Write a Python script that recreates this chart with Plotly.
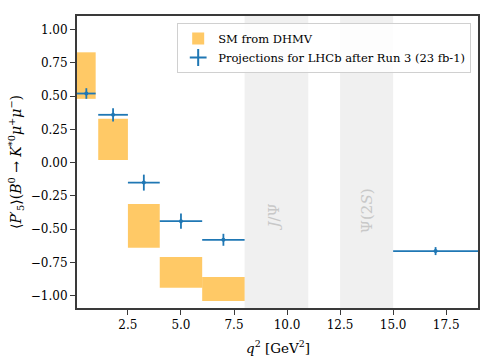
import plotly.graph_objects as go

# SM prediction boxes (DHMV)
sm_lo_edges = [0.1, 1.1, 2.5, 4.0, 6.0]
sm_hi_edges = [0.98, 2.5, 4.0, 6.0, 8.0]
sm_low = [0.48, 0.02, -0.64, -0.94, -1.04]
sm_high = [0.83, 0.33, -0.31, -0.71, -0.86]

# LHCb projections
proj_lo_edges = [0.1, 1.1, 2.5, 4.0, 6.0, 15.0]
proj_hi_edges = [0.98, 2.5, 4.0, 6.0, 8.0, 19.0]
proj_x = [0.54, 1.8, 3.25, 5.0, 7.0, 17.0]
proj_y = [0.52, 0.36, -0.15, -0.44, -0.58, -0.665]
proj_err = [0.04, 0.05, 0.06, 0.057, 0.045, 0.03]

# Resonance veto regions
veto_lo = [8.0, 12.5]
veto_hi = [11.0, 15.0]
veto_labels = ["<i>J</i>/Ψ", "Ψ(2<i>S</i>)"]
veto_label_x = [9.4, 13.75]
veto_label_y = [-0.41, -0.36]

FONT = "DejaVu Serif, serif"
BLUE = "#1f77b4"
FRAME = "#3a3a3a"

fig = go.Figure()

for lo, hi in zip(veto_lo, veto_hi):
    fig.add_shape(type="rect", xref="x", yref="paper", x0=lo, x1=hi, y0=0, y1=1,
                  fillcolor="#f0f0f0", line=dict(width=0), layer="below")

for x, y, t in zip(veto_label_x, veto_label_y, veto_labels):
    fig.add_annotation(x=x, y=y, text=t, textangle=-90, showarrow=False,
                       font=dict(family=FONT, size=15, color="#c8c8c8"))

# x-axis title placed as annotation
fig.add_annotation(xref="paper", yref="paper", x=0.5, y=-0.134, yanchor="middle",
                   text="<i>q</i><sup>2</sup> [GeV<sup>2</sup>]", showarrow=False,
                   font=dict(family=FONT, size=13.5, color="black"))

centers = [(a + b) / 2 for a, b in zip(sm_lo_edges, sm_hi_edges)]
widths = [b - a for a, b in zip(sm_lo_edges, sm_hi_edges)]
heights = [h - l for l, h in zip(sm_low, sm_high)]
fig.add_trace(go.Bar(x=centers, y=heights, base=sm_low, width=widths,
                     marker=dict(color="rgba(255,165,0,0.6)", line=dict(width=0)),
                     name="SM from DHMV"))

fig.add_trace(go.Scatter(
    x=proj_x, y=proj_y, mode="markers",
    marker=dict(color=BLUE, size=4, symbol="circle"),
    error_x=dict(type="data", symmetric=False,
                 array=[h - x for h, x in zip(proj_hi_edges, proj_x)],
                 arrayminus=[x - l for l, x in zip(proj_lo_edges, proj_x)],
                 color=BLUE, thickness=1.8, width=0),
    error_y=dict(type="data", array=proj_err, color=BLUE, thickness=1.8, width=0),
    showlegend=False))

fig.add_trace(go.Scatter(
    x=[None], y=[None], mode="markers",
    marker=dict(color=BLUE, size=16, symbol="cross-thin", line=dict(color=BLUE, width=2)),
    name="Projections for LHCb after Run 3 (23 fb-1)"))

fig.update_layout(
    width=501, height=359,
    margin=dict(l=77, r=23, t=16, b=51, autoexpand=False),
    paper_bgcolor="white", plot_bgcolor="white",
    font=dict(family=FONT, size=11, color="black"),
    barmode="overlay",
    legend=dict(x=0.983, y=0.976, xanchor="right", yanchor="top",
                bgcolor="rgba(255,255,255,0.85)", bordercolor="#d0d0d0", borderwidth=1,
                font=dict(family=FONT, size=11.5), tracegroupgap=0,
                itemsizing="constant"),
)

fig.update_xaxes(range=[0.1, 19.0], tickvals=[2.5, 5.0, 7.5, 10.0, 12.5, 15.0, 17.5],
                 ticktext=["2.5", "5.0", "7.5", "10.0", "12.5", "15.0", "17.5"],
                 showgrid=False, zeroline=False, showline=True, linecolor=FRAME,
                 linewidth=2, mirror=True, ticks="outside", ticklen=5, tickcolor=FRAME,
                 tickwidth=1.2, tickfont=dict(family=FONT, size=12))
fig.update_yaxes(range=[-1.093, 1.103], tickvals=[-1.0, -0.75, -0.5, -0.25, 0.0, 0.25, 0.5, 0.75, 1.0],
                 ticktext=["−1.00", "−0.75", "−0.50", "−0.25", "0.00", "0.25", "0.50", "0.75", "1.00"],
                 showgrid=False, zeroline=False, showline=True, linecolor=FRAME,
                 linewidth=2, mirror=True, ticks="outside", ticklen=5, tickcolor=FRAME,
                 tickwidth=1.2, tickfont=dict(family=FONT, size=12),
                 title=dict(text="⟨<i>P</i>′<sub>5</sub>⟩(<i>B</i><sup>0</sup> → <i>K</i><sup>*0</sup><i>μ</i><sup>+</sup><i>μ</i><sup>−</sup>)",
                            font=dict(family=FONT, size=14), standoff=6))

fig.write_html("out.html", config={"displayModeBar": False},
               post_script="document.body.style.margin='0';document.body.style.overflow='hidden';")
